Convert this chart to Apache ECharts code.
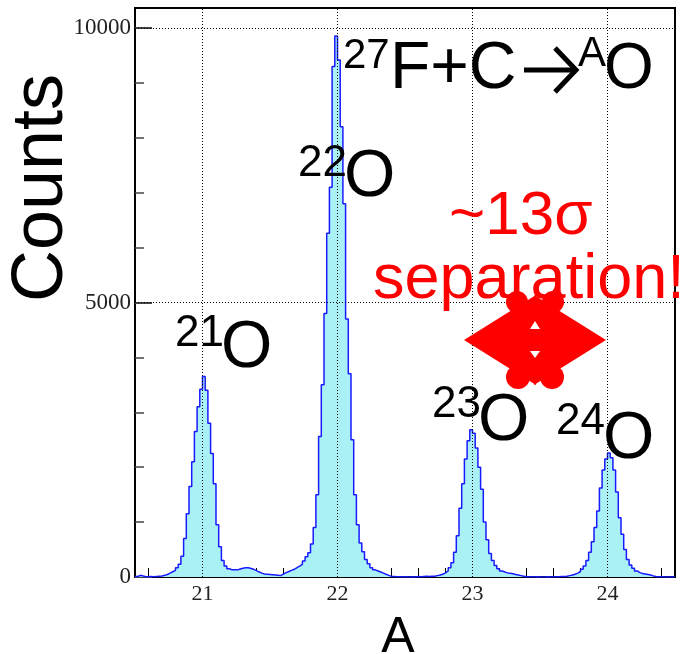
<!DOCTYPE html>
<html>
<head>
<meta charset="utf-8">
<script src="https://cdn.jsdelivr.net/npm/echarts@6/dist/echarts.min.js"></script>
<style>
html,body{margin:0;padding:0;background:#fff;}
#chart{width:689px;height:654px;}
</style>
</head>
<body>
<div id="chart"></div>
<script>
// ---- data ----
const binStart = 20.5;
const binWidth = 0.02;
const xMin = 20.5, xMax = 24.5;
const yMin = 0, yMax = 10364;
// counts per bin (0.02 wide), 20.50 .. 21.50
const counts21 = [10,30,20,5,5,10,5,10,15,20, 30,45,70,95,120,170,230,380,700,1150,
  1650,2100,2650,3100,3420,3650,3400,2800,2250,1700, 950,550,300,200,150,130,130,130,145,160,
  170,170,155,140,115,90,70,55,50,45];
// 21.50 .. 22.50
const counts22 = [40,35,30,25,55,80,100,120,140,170, 200,230,290,370,440,600,900,1500,2560,3500,
  4800,6260,7100,9300,9855,9417,8200,6800,4700,3700, 2500,1500,950,620,460,320,240,170,130,110,
  90,70,50,30,15,10,5,5,0,5];
// 22.50 .. 23.50
const counts23 = [0,0,5,0,10,5,10,15,10,15, 15,25,35,50,75,110,170,260,450,750,
  1250,1700,2150,2480,2680,2620,2350,2000,1600,1000, 680,430,300,210,150,110,90,75,70,60,
  45,35,25,15,5,5,0,0,5,0];
// 23.50 .. 24.50
const counts24 = [0,0,5,0,0,5,5,10,10,15, 25,35,50,70,100,140,200,300,450,640,
  900,1200,1620,1950,2150,2260,2170,1950,1550,1080, 780,500,320,220,160,110,80,65,55,45,
  35,20,10,5,5,0,0,0,0,0];
const xTicks = [21, 22, 23, 24];
const xMinorTicks = [20.6,20.8,21.2,21.4,21.6,21.8,22.2,22.4,22.6,22.8,23.2,23.4,23.6,23.8,24.2,24.4];
const yTicks = [0, 5000, 10000];
const yMinorTicks = [1000,2000,3000,4000,6000,7000,8000,9000];

// ---- build ----
const counts = counts21.concat(counts22, counts23, counts24);
const histData = counts.map((c, i) => [+(binStart + i * binWidth).toFixed(4), c]);
histData.push([xMax, counts[counts.length - 1]]);

const SANS = '"Liberation Sans", Arial, sans-serif';
const SERIF = '"Liberation Serif", "Times New Roman", serif';
function txt(x, y, s, size, color) {
  return {
    type: 'text', x: x, y: y, z: 100,
    style: { text: s, font: size + 'px ' + SANS, fill: color,
      align: 'left', verticalAlign: 'middle', textAlign: 'left', textVerticalAlign: 'middle' }
  };
}
const RED = '#ff0000';

const chart = echarts.init(document.getElementById('chart'), null, { renderer: 'canvas' });
chart.setOption({
  animation: false,
  grid: { left: 135, right: 14, top: 8, bottom: 77, show: true, borderColor: '#000', borderWidth: 2, backgroundColor: 'transparent' },
  xAxis: [{
    type: 'value', min: xMin, max: xMax,
    axisLine: { show: true, lineStyle: { color: '#000', width: 2 } },
    axisTick: { show: true, inside: true, length: 16, customValues: xTicks, lineStyle: { color: '#000', width: 1 } },
    axisLabel: { show: true, customValues: xTicks, margin: 6, color: '#222', fontSize: 22, fontFamily: SERIF, formatter: v => String(v) },
    splitLine: { show: false }
  }, {
    type: 'value', min: xMin, max: xMax, position: 'bottom',
    axisLine: { show: false },
    axisTick: { show: true, inside: true, length: 9, customValues: xMinorTicks, lineStyle: { color: '#000', width: 1 } },
    axisLabel: { show: false },
    splitLine: { show: false }
  }],
  yAxis: [{
    type: 'value', min: yMin, max: yMax,
    axisLine: { show: true, lineStyle: { color: '#000', width: 2 } },
    axisTick: { show: true, inside: true, length: 17, customValues: yTicks, lineStyle: { color: '#444', width: 2 } },
    axisLabel: { show: true, customValues: yTicks, margin: 4, color: '#222', fontSize: 23, fontFamily: SERIF, formatter: v => String(v) },
    splitLine: { show: false }
  }, {
    type: 'value', min: yMin, max: yMax, position: 'left',
    axisLine: { show: false },
    axisTick: { show: true, inside: true, length: 9, customValues: yMinorTicks, lineStyle: { color: '#444', width: 1.5 } },
    axisLabel: { show: false },
    splitLine: { show: false }
  }],
  series: [{
    type: 'line', xAxisIndex: 0, yAxisIndex: 0,
    step: 'end', symbol: 'none', data: histData,
    lineStyle: { color: '#1a1aff', width: 1.5 },
    areaStyle: { color: '#aaf1f6', opacity: 1 },
    markLine: {
      silent: true, symbol: 'none', label: { show: false },
      lineStyle: { type: [1, 2], color: '#000', width: 1 },
      data: xTicks.map(v => ({ xAxis: v })).concat(yTicks.filter(v => v > 0).map(v => ({ yAxis: v })))
    }
  }],
  graphic: { elements: [
    // axis titles
    { type: 'text', x: 42, y: 188, rotation: Math.PI / 2, z: 100,
      style: { text: 'Counts', font: '72px ' + SANS, fill: '#000', align: 'center', verticalAlign: 'middle', textAlign: 'center', textVerticalAlign: 'middle' } },
    { type: 'text', x: 398, y: 638, z: 100,
      style: { text: 'A', font: '50px ' + SANS, fill: '#000', align: 'center', verticalAlign: 'middle', textAlign: 'center', textVerticalAlign: 'middle' } },
    // reaction
    txt(343, 56, '27', 42, '#000'),
    txt(390, 70, 'F+C', 66, '#000'),
    { type: 'polyline', z: 100, shape: { points: [[524, 70], [575, 70]] }, style: { stroke: '#000', lineWidth: 5, fill: null } },
    { type: 'polyline', z: 100, shape: { points: [[555, 48], [576, 70], [555, 92]] }, style: { stroke: '#000', lineWidth: 5, lineJoin: 'miter', fill: null } },
    txt(578, 54, 'A', 42, '#000'),
    txt(604, 70, 'O', 64, '#000'),
    // isotopes
    txt(175, 334, '21', 44, '#000'), txt(221, 349, 'O', 66, '#000'),
    txt(298, 164, '22', 44, '#000'), txt(344, 178, 'O', 66, '#000'),
    txt(432, 405, '23', 44, '#000'), txt(478, 422, 'O', 66, '#000'),
    txt(556, 422, '24', 44, '#000'), txt(603, 440, 'O', 66, '#000'),
    // red texts
    txt(449, 217, '~13\u03c3', 62, RED),
    txt(373, 281, 'separation!', 63, RED),
    // red arrow shape
    { type: 'polygon', z: 101, shape: { points: [[464, 340], [536, 295], [536, 385]] }, style: { fill: RED } },
    { type: 'polygon', z: 101, shape: { points: [[606, 340], [534, 295], [534, 385]] }, style: { fill: RED } },
    { type: 'circle', z: 101, shape: { cx: 517, cy: 302, r: 11 }, style: { fill: RED } },
    { type: 'circle', z: 101, shape: { cx: 553, cy: 302, r: 11 }, style: { fill: RED } },
    { type: 'circle', z: 101, shape: { cx: 518, cy: 377, r: 12 }, style: { fill: RED } },
    { type: 'circle', z: 101, shape: { cx: 552, cy: 377, r: 12 }, style: { fill: RED } },
    { type: 'polygon', z: 102, shape: { points: [[535, 321], [530, 329], [540, 329]] }, style: { fill: '#fff' } },
    { type: 'polygon', z: 102, shape: { points: [[530, 351], [540, 351], [535, 358]] }, style: { fill: '#fff' } }
  ] }
});
</script>
</body>
</html>
